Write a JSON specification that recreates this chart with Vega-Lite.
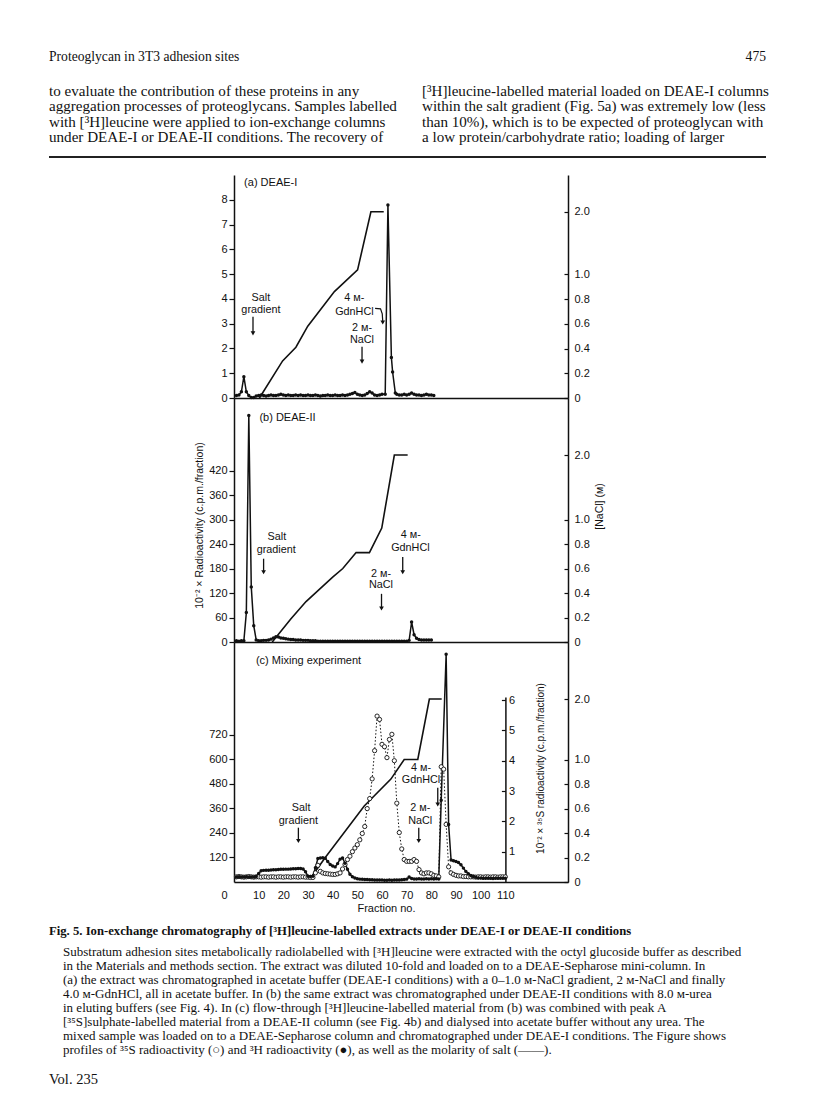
{
  "$schema": "https://vega.github.io/schema/vega-lite/v6.json",
  "autosize": {"type": "pad"},
  "padding": {"left": 48, "right": 51, "top": 40, "bottom": 0},
  "background": "white",
  "bounds": "flush",
  "spacing": 0,
  "config": {
    "view": {"stroke": null},
    "font": "Liberation Sans",
    "axis": {"domainColor": "#111", "tickColor": "#111", "labelColor": "#111", "titleColor": "#111", "domainWidth": 1.5, "tickWidth": 1.2, "labelFontSize": 11, "grid": false, "labelFont": "Liberation Sans", "titleFont": "Liberation Sans", "titleFontWeight": "normal", "titleFontSize": 10.5},
    "axisX": {"labelOverlap": false, "labelFlush": false}
  },
  "datasets": {
    "pageText": [
      {"col": "left", "line": 0, "text": "Proteoglycan in 3T3 adhesion sites"},
      {"col": "page", "line": 0, "text": "475"},
      {"col": "left", "line": 1, "text": "to evaluate the contribution of these proteins in any"},
      {"col": "left", "line": 2, "text": "aggregation processes of proteoglycans. Samples labelled"},
      {"col": "left", "line": 3, "text": "with [³H]leucine were applied to ion-exchange columns"},
      {"col": "left", "line": 4, "text": "under DEAE-I or DEAE-II conditions. The recovery of"},
      {"col": "right", "line": 1, "text": "[³H]leucine-labelled material loaded on DEAE-I columns"},
      {"col": "right", "line": 2, "text": "within the salt gradient (Fig. 5a) was extremely low (less"},
      {"col": "right", "line": 3, "text": "than 10%), which is to be expected of proteoglycan with"},
      {"col": "right", "line": 4, "text": "a low protein/carbohydrate ratio; loading of larger"}
    ],
    "captionText": [
      {"col": "margin", "line": 0, "text": "Fig. 5. Ion-exchange chromatography of [³H]leucine-labelled extracts under DEAE-I or DEAE-II conditions"},
      {"col": "indent", "line": 1, "text": "Substratum adhesion sites metabolically radiolabelled with [³H]leucine were extracted with the octyl glucoside buffer as described"},
      {"col": "indent", "line": 2, "text": "in the Materials and methods section. The extract was diluted 10-fold and loaded on to a DEAE-Sepharose mini-column. In"},
      {"col": "indent", "line": 3, "text": "(a) the extract was chromatographed in acetate buffer (DEAE-I conditions) with a 0–1.0 ᴍ-NaCl gradient, 2 ᴍ-NaCl and finally"},
      {"col": "indent", "line": 4, "text": "4.0 ᴍ-GdnHCl, all in acetate buffer. In (b) the same extract was chromatographed under DEAE-II conditions with 8.0 ᴍ-urea"},
      {"col": "indent", "line": 5, "text": "in eluting buffers (see Fig. 4). In (c) flow-through [³H]leucine-labelled material from (b) was combined with peak A"},
      {"col": "indent", "line": 6, "text": "[³⁵S]sulphate-labelled material from a DEAE-II column (see Fig. 4b) and dialysed into acetate buffer without any urea. The"},
      {"col": "indent", "line": 7, "text": "mixed sample was loaded on to a DEAE-Sepharose column and chromatographed under DEAE-I conditions. The Figure shows"},
      {"col": "indent", "line": 8, "text": "profiles of ³⁵S radioactivity (○) and ³H radioactivity (●), as well as the molarity of salt (——)."},
      {"col": "margin", "line": 9, "text": "Vol. 235"}
    ],
    "nA": [
      {"fraction": 10.3, "M": 0}, {"fraction": 19.7, "M": 0.3}, {"fraction": 25.1, "M": 0.41}, {"fraction": 29.9, "M": 0.58},
      {"fraction": 40.7, "M": 0.86}, {"fraction": 50.1, "M": 1.07}, {"fraction": 55.5, "M": 2.0}, {"fraction": 60.7, "M": 2.0}
    ],
    "nB": [
      {"fraction": 15.5, "M": 0}, {"fraction": 23.1, "M": 0.19}, {"fraction": 29.2, "M": 0.33}, {"fraction": 40, "M": 0.53},
      {"fraction": 44.1, "M": 0.6}, {"fraction": 49.5, "M": 0.73}, {"fraction": 54.9, "M": 0.73}, {"fraction": 59.9, "M": 0.93},
      {"fraction": 65, "M": 2.0}, {"fraction": 70.4, "M": 2.0}
    ],
    "nC": [
      {"fraction": 31, "M": 0.03}, {"fraction": 37, "M": 0.2}, {"fraction": 52.8, "M": 0.62}, {"fraction": 63.6, "M": 0.84},
      {"fraction": 69, "M": 1.0}, {"fraction": 74.5, "M": 1.0}, {"fraction": 79.2, "M": 2.0}, {"fraction": 84.2, "M": 2.0}
    ],
    "hA": [
      {"fraction": 1, "cpm": 0.1}, {"fraction": 2, "cpm": 0.12}, {"fraction": 3, "cpm": 0.25}, {"fraction": 4, "cpm": 0.86}, {"fraction": 5, "cpm": 0.25},
      {"fraction": 6, "cpm": 0.1}, {"fraction": 7, "cpm": 0.02}, {"fraction": 8, "cpm": 0.02}, {"fraction": 9, "cpm": 0.08}, {"fraction": 10, "cpm": 0.1},
      {"fraction": 11, "cpm": 0.12}, {"fraction": 12, "cpm": 0.1}, {"fraction": 13, "cpm": 0.08}, {"fraction": 14, "cpm": 0.1}, {"fraction": 15, "cpm": 0.12},
      {"fraction": 16, "cpm": 0.1}, {"fraction": 17, "cpm": 0.1}, {"fraction": 18, "cpm": 0.12}, {"fraction": 19, "cpm": 0.15}, {"fraction": 20, "cpm": 0.12},
      {"fraction": 21, "cpm": 0.1}, {"fraction": 22, "cpm": 0.12}, {"fraction": 23, "cpm": 0.1}, {"fraction": 24, "cpm": 0.1}, {"fraction": 25, "cpm": 0.12},
      {"fraction": 26, "cpm": 0.1}, {"fraction": 27, "cpm": 0.12}, {"fraction": 28, "cpm": 0.1}, {"fraction": 29, "cpm": 0.1}, {"fraction": 30, "cpm": 0.12},
      {"fraction": 31, "cpm": 0.1}, {"fraction": 32, "cpm": 0.1}, {"fraction": 33, "cpm": 0.12}, {"fraction": 34, "cpm": 0.1}, {"fraction": 35, "cpm": 0.08},
      {"fraction": 36, "cpm": 0.1}, {"fraction": 37, "cpm": 0.1}, {"fraction": 38, "cpm": 0.12}, {"fraction": 39, "cpm": 0.1}, {"fraction": 40, "cpm": 0.1},
      {"fraction": 41, "cpm": 0.12}, {"fraction": 42, "cpm": 0.1}, {"fraction": 43, "cpm": 0.1}, {"fraction": 44, "cpm": 0.12}, {"fraction": 45, "cpm": 0.1},
      {"fraction": 46, "cpm": 0.12}, {"fraction": 47, "cpm": 0.15}, {"fraction": 48, "cpm": 0.18}, {"fraction": 49, "cpm": 0.22}, {"fraction": 50, "cpm": 0.15},
      {"fraction": 51, "cpm": 0.12}, {"fraction": 52, "cpm": 0.1}, {"fraction": 53, "cpm": 0.12}, {"fraction": 54, "cpm": 0.18}, {"fraction": 55, "cpm": 0.25},
      {"fraction": 56, "cpm": 0.2}, {"fraction": 57, "cpm": 0.12}, {"fraction": 58, "cpm": 0.1}, {"fraction": 59, "cpm": 0.12}, {"fraction": 60, "cpm": 0.15},
      {"fraction": 61.3, "cpm": 0.15}, {"fraction": 62.4, "cpm": 7.8}, {"fraction": 63.8, "cpm": 1.64}, {"fraction": 64.3, "cpm": 1.05}, {"fraction": 65.4, "cpm": 0.2},
      {"fraction": 66, "cpm": 0.15}, {"fraction": 67, "cpm": 0.12}, {"fraction": 68, "cpm": 0.12}, {"fraction": 69, "cpm": 0.15}, {"fraction": 70, "cpm": 0.12},
      {"fraction": 71, "cpm": 0.15}, {"fraction": 72, "cpm": 0.2}, {"fraction": 73, "cpm": 0.15}, {"fraction": 74, "cpm": 0.12}, {"fraction": 75, "cpm": 0.12},
      {"fraction": 76, "cpm": 0.1}, {"fraction": 77, "cpm": 0.12}, {"fraction": 78, "cpm": 0.15}, {"fraction": 79, "cpm": 0.12}, {"fraction": 80, "cpm": 0.12},
      {"fraction": 81, "cpm": 0.1}
    ],
    "hB": [
      {"fraction": 1, "cpm": 3}, {"fraction": 2, "cpm": 2}, {"fraction": 3, "cpm": 3}, {"fraction": 4, "cpm": 3}, {"fraction": 5, "cpm": 72},
      {"fraction": 6, "cpm": 555}, {"fraction": 7, "cpm": 135}, {"fraction": 8, "cpm": 40}, {"fraction": 9, "cpm": 5}, {"fraction": 10, "cpm": 3},
      {"fraction": 11, "cpm": 3}, {"fraction": 12, "cpm": 4}, {"fraction": 13, "cpm": 4}, {"fraction": 14, "cpm": 5}, {"fraction": 15, "cpm": 7},
      {"fraction": 16, "cpm": 10}, {"fraction": 17, "cpm": 13}, {"fraction": 18, "cpm": 12}, {"fraction": 19, "cpm": 10}, {"fraction": 20, "cpm": 9},
      {"fraction": 21, "cpm": 8}, {"fraction": 22, "cpm": 7}, {"fraction": 23, "cpm": 6}, {"fraction": 24, "cpm": 6}, {"fraction": 25, "cpm": 5},
      {"fraction": 26, "cpm": 5}, {"fraction": 27, "cpm": 5}, {"fraction": 28, "cpm": 4}, {"fraction": 29, "cpm": 4}, {"fraction": 30, "cpm": 4},
      {"fraction": 31, "cpm": 3}, {"fraction": 32, "cpm": 3}, {"fraction": 33, "cpm": 3}, {"fraction": 34, "cpm": 2}, {"fraction": 35, "cpm": 2},
      {"fraction": 36, "cpm": 2}, {"fraction": 37, "cpm": 2}, {"fraction": 38, "cpm": 2}, {"fraction": 39, "cpm": 2}, {"fraction": 40, "cpm": 2},
      {"fraction": 41, "cpm": 2}, {"fraction": 42, "cpm": 2}, {"fraction": 43, "cpm": 2}, {"fraction": 44, "cpm": 2}, {"fraction": 45, "cpm": 2},
      {"fraction": 46, "cpm": 2}, {"fraction": 47, "cpm": 2}, {"fraction": 48, "cpm": 2}, {"fraction": 49, "cpm": 2}, {"fraction": 50, "cpm": 2},
      {"fraction": 51, "cpm": 2}, {"fraction": 52, "cpm": 2}, {"fraction": 53, "cpm": 2}, {"fraction": 54, "cpm": 2}, {"fraction": 55, "cpm": 2},
      {"fraction": 56, "cpm": 2}, {"fraction": 57, "cpm": 2}, {"fraction": 58, "cpm": 2}, {"fraction": 59, "cpm": 2}, {"fraction": 60, "cpm": 2},
      {"fraction": 61, "cpm": 2}, {"fraction": 62, "cpm": 2}, {"fraction": 63, "cpm": 2}, {"fraction": 64, "cpm": 2}, {"fraction": 65, "cpm": 2},
      {"fraction": 66, "cpm": 2}, {"fraction": 67, "cpm": 2}, {"fraction": 68, "cpm": 2}, {"fraction": 69, "cpm": 2}, {"fraction": 70, "cpm": 2},
      {"fraction": 71, "cpm": 4}, {"fraction": 72, "cpm": 49}, {"fraction": 73, "cpm": 18}, {"fraction": 74, "cpm": 9}, {"fraction": 75, "cpm": 6},
      {"fraction": 76, "cpm": 5}, {"fraction": 77, "cpm": 5}, {"fraction": 78, "cpm": 5}, {"fraction": 79, "cpm": 5}, {"fraction": 80, "cpm": 5}
    ],
    "hC": [
      {"fraction": 1, "cpm": 25}, {"fraction": 2, "cpm": 26}, {"fraction": 3, "cpm": 25}, {"fraction": 4, "cpm": 24}, {"fraction": 5, "cpm": 26},
      {"fraction": 6, "cpm": 25}, {"fraction": 7, "cpm": 24}, {"fraction": 8, "cpm": 25}, {"fraction": 9, "cpm": 27}, {"fraction": 10, "cpm": 42},
      {"fraction": 11, "cpm": 55}, {"fraction": 12, "cpm": 57}, {"fraction": 13, "cpm": 58}, {"fraction": 14, "cpm": 58}, {"fraction": 15, "cpm": 59},
      {"fraction": 16, "cpm": 60}, {"fraction": 17, "cpm": 60}, {"fraction": 18, "cpm": 61}, {"fraction": 19, "cpm": 62}, {"fraction": 20, "cpm": 62},
      {"fraction": 21, "cpm": 63}, {"fraction": 22, "cpm": 63}, {"fraction": 23, "cpm": 64}, {"fraction": 24, "cpm": 65}, {"fraction": 25, "cpm": 65},
      {"fraction": 26, "cpm": 66}, {"fraction": 27, "cpm": 66}, {"fraction": 28, "cpm": 64}, {"fraction": 29, "cpm": 50}, {"fraction": 30, "cpm": 28},
      {"fraction": 31, "cpm": 27}, {"fraction": 32, "cpm": 28}, {"fraction": 33, "cpm": 70}, {"fraction": 34, "cpm": 115}, {"fraction": 35, "cpm": 118},
      {"fraction": 36, "cpm": 119}, {"fraction": 37, "cpm": 116}, {"fraction": 38, "cpm": 100}, {"fraction": 39, "cpm": 86}, {"fraction": 40, "cpm": 78},
      {"fraction": 41, "cpm": 74}, {"fraction": 42, "cpm": 90}, {"fraction": 43, "cpm": 112}, {"fraction": 44, "cpm": 118}, {"fraction": 45, "cpm": 92},
      {"fraction": 46, "cpm": 62}, {"fraction": 47, "cpm": 38}, {"fraction": 48, "cpm": 26}, {"fraction": 49, "cpm": 20}, {"fraction": 50, "cpm": 16},
      {"fraction": 51, "cpm": 14}, {"fraction": 52, "cpm": 13}, {"fraction": 53, "cpm": 12}, {"fraction": 54, "cpm": 12}, {"fraction": 55, "cpm": 11},
      {"fraction": 56, "cpm": 11}, {"fraction": 57, "cpm": 10}, {"fraction": 58, "cpm": 10}, {"fraction": 59, "cpm": 10}, {"fraction": 60, "cpm": 10},
      {"fraction": 61, "cpm": 9}, {"fraction": 62, "cpm": 9}, {"fraction": 63, "cpm": 10}, {"fraction": 64, "cpm": 9}, {"fraction": 65, "cpm": 10},
      {"fraction": 66, "cpm": 10}, {"fraction": 67, "cpm": 10}, {"fraction": 68, "cpm": 11}, {"fraction": 69, "cpm": 12}, {"fraction": 70, "cpm": 14},
      {"fraction": 71, "cpm": 24}, {"fraction": 72, "cpm": 17}, {"fraction": 73, "cpm": 15}, {"fraction": 74, "cpm": 15}, {"fraction": 75, "cpm": 16},
      {"fraction": 76, "cpm": 15}, {"fraction": 77, "cpm": 15}, {"fraction": 78, "cpm": 16}, {"fraction": 79, "cpm": 15}, {"fraction": 80, "cpm": 16},
      {"fraction": 81, "cpm": 15}, {"fraction": 82, "cpm": 16}, {"fraction": 83, "cpm": 15}, {"fraction": 84, "cpm": 400}, {"fraction": 86, "cpm": 1115},
      {"fraction": 87, "cpm": 282}, {"fraction": 88, "cpm": 108}, {"fraction": 89, "cpm": 104}, {"fraction": 90, "cpm": 100}, {"fraction": 91, "cpm": 96},
      {"fraction": 92, "cpm": 84}, {"fraction": 93, "cpm": 68}, {"fraction": 94, "cpm": 52}, {"fraction": 95, "cpm": 40}, {"fraction": 96, "cpm": 32},
      {"fraction": 97, "cpm": 27}, {"fraction": 98, "cpm": 23}, {"fraction": 99, "cpm": 20}, {"fraction": 100, "cpm": 19}, {"fraction": 101, "cpm": 18},
      {"fraction": 102, "cpm": 18}, {"fraction": 103, "cpm": 18}, {"fraction": 104, "cpm": 18}, {"fraction": 105, "cpm": 17}, {"fraction": 106, "cpm": 18},
      {"fraction": 107, "cpm": 18}, {"fraction": 108, "cpm": 18}, {"fraction": 109, "cpm": 18}, {"fraction": 110, "cpm": 18}
    ],
    "sC": [
      {"fraction": 1, "s35": 0.17}, {"fraction": 2, "s35": 0.18}, {"fraction": 3, "s35": 0.17}, {"fraction": 4, "s35": 0.16}, {"fraction": 5, "s35": 0.17},
      {"fraction": 6, "s35": 0.18}, {"fraction": 7, "s35": 0.17}, {"fraction": 8, "s35": 0.16}, {"fraction": 9, "s35": 0.17}, {"fraction": 10, "s35": 0.17},
      {"fraction": 11, "s35": 0.16}, {"fraction": 12, "s35": 0.17}, {"fraction": 13, "s35": 0.17}, {"fraction": 14, "s35": 0.16}, {"fraction": 15, "s35": 0.17},
      {"fraction": 16, "s35": 0.17}, {"fraction": 17, "s35": 0.16}, {"fraction": 18, "s35": 0.17}, {"fraction": 19, "s35": 0.17}, {"fraction": 20, "s35": 0.16},
      {"fraction": 21, "s35": 0.17}, {"fraction": 22, "s35": 0.17}, {"fraction": 23, "s35": 0.16}, {"fraction": 24, "s35": 0.17}, {"fraction": 25, "s35": 0.17},
      {"fraction": 26, "s35": 0.16}, {"fraction": 27, "s35": 0.17}, {"fraction": 28, "s35": 0.17}, {"fraction": 29, "s35": 0.16}, {"fraction": 30, "s35": 0.16},
      {"fraction": 31, "s35": 0.15}, {"fraction": 32, "s35": 0.15}, {"fraction": 33, "s35": 0.3}, {"fraction": 34, "s35": 0.55}, {"fraction": 35, "s35": 0.35},
      {"fraction": 36, "s35": 0.3}, {"fraction": 37, "s35": 0.28}, {"fraction": 38, "s35": 0.27}, {"fraction": 39, "s35": 0.26}, {"fraction": 40, "s35": 0.25},
      {"fraction": 41, "s35": 0.25}, {"fraction": 42, "s35": 0.27}, {"fraction": 43, "s35": 0.3}, {"fraction": 44, "s35": 0.43}, {"fraction": 45, "s35": 0.58},
      {"fraction": 46, "s35": 0.74}, {"fraction": 47, "s35": 0.85}, {"fraction": 48, "s35": 1.0}, {"fraction": 49, "s35": 1.12}, {"fraction": 50, "s35": 1.23},
      {"fraction": 51, "s35": 1.39}, {"fraction": 52, "s35": 1.6}, {"fraction": 53, "s35": 1.83}, {"fraction": 54, "s35": 2.42}, {"fraction": 55, "s35": 2.75},
      {"fraction": 56, "s35": 3.4}, {"fraction": 57, "s35": 4.33}, {"fraction": 58, "s35": 5.47}, {"fraction": 59, "s35": 5.36}, {"fraction": 60, "s35": 4.54},
      {"fraction": 61, "s35": 4.46}, {"fraction": 62, "s35": 4.1}, {"fraction": 63, "s35": 4.7}, {"fraction": 64, "s35": 4.87}, {"fraction": 65, "s35": 4.0},
      {"fraction": 66, "s35": 2.6}, {"fraction": 67, "s35": 1.63}, {"fraction": 68, "s35": 1.09}, {"fraction": 69, "s35": 0.74}, {"fraction": 70, "s35": 0.68},
      {"fraction": 71, "s35": 0.68}, {"fraction": 72, "s35": 0.68}, {"fraction": 73, "s35": 0.74}, {"fraction": 74, "s35": 0.68}, {"fraction": 75, "s35": 0.41},
      {"fraction": 76, "s35": 0.3}, {"fraction": 77, "s35": 0.27}, {"fraction": 78, "s35": 0.3}, {"fraction": 79, "s35": 0.3}, {"fraction": 80, "s35": 0.27},
      {"fraction": 81, "s35": 0.22}, {"fraction": 82, "s35": 0.2}, {"fraction": 83, "s35": 0.17}, {"fraction": 84, "s35": 3.8}, {"fraction": 85, "s35": 3.72},
      {"fraction": 86, "s35": 1.9}, {"fraction": 87, "s35": 0.5}, {"fraction": 88, "s35": 0.3}, {"fraction": 89, "s35": 0.25}, {"fraction": 90, "s35": 0.22},
      {"fraction": 91, "s35": 0.2}, {"fraction": 92, "s35": 0.2}, {"fraction": 93, "s35": 0.18}, {"fraction": 94, "s35": 0.18}, {"fraction": 95, "s35": 0.17},
      {"fraction": 96, "s35": 0.17}, {"fraction": 97, "s35": 0.17}, {"fraction": 98, "s35": 0.16}, {"fraction": 99, "s35": 0.17}, {"fraction": 100, "s35": 0.17},
      {"fraction": 101, "s35": 0.16}, {"fraction": 102, "s35": 0.17}, {"fraction": 103, "s35": 0.17}, {"fraction": 104, "s35": 0.16}, {"fraction": 105, "s35": 0.17},
      {"fraction": 106, "s35": 0.17}, {"fraction": 107, "s35": 0.16}, {"fraction": 108, "s35": 0.17}, {"fraction": 109, "s35": 0.17}, {"fraction": 110, "s35": 0.17}
    ],
    "annA": [
      {"text": "Salt", "fraction": 10.9, "value": 4.05}, {"text": "gradient", "fraction": 10.9, "value": 3.56},
      {"text": "4 ᴍ-", "fraction": 48.8, "value": 4.03}, {"text": "GdnHCl", "fraction": 48.8, "value": 3.49},
      {"text": "2 ᴍ-", "fraction": 51.9, "value": 2.81}, {"text": "NaCl", "fraction": 51.9, "value": 2.34}
    ],
    "arrA": [
      {"fraction": 7.7, "top": 3.28, "bottom": 2.61}, {"fraction": 51.9, "top": 2.07, "bottom": 1.47}, {"fraction": 60.3, "top": 3.1, "bottom": 3.05}
    ],
    "hookA": [
      {"fraction": 57.2, "value": 3.62}, {"fraction": 59.4, "value": 3.6}, {"fraction": 60.1, "value": 3.4}, {"fraction": 60.3, "value": 3.1}
    ],
    "annB": [
      {"text": "Salt", "fraction": 17.4, "value": 257}, {"text": "gradient", "fraction": 17.1, "value": 224.5},
      {"text": "4 ᴍ-", "fraction": 71.7, "value": 263}, {"text": "GdnHCl", "fraction": 71.5, "value": 231},
      {"text": "2 ᴍ-", "fraction": 59.6, "value": 167}, {"text": "NaCl", "fraction": 59.6, "value": 139}
    ],
    "arrB": [
      {"fraction": 12.0, "top": 204, "bottom": 171}, {"fraction": 68.4, "top": 208, "bottom": 171}, {"fraction": 59.8, "top": 118, "bottom": 82}
    ],
    "annC": [
      {"text": "Salt", "fraction": 27.2, "value": 364}, {"text": "gradient", "fraction": 26.1, "value": 299},
      {"text": "4 ᴍ-", "fraction": 75.8, "value": 560}, {"text": "GdnHCl", "fraction": 75.8, "value": 500},
      {"text": "2 ᴍ-", "fraction": 75.5, "value": 364}, {"text": "NaCl", "fraction": 75.5, "value": 299}
    ],
    "arrC": [
      {"fraction": 26.1, "top": 266, "bottom": 201}, {"fraction": 82.6, "top": 462, "bottom": 380}, {"fraction": 74.9, "top": 266, "bottom": 201}
    ]
  },
  "vconcat": [
    {
      "width": 334, "height": 135,
      "data": {"name": "pageText"},
      "encoding": {
        "x": {"field": "col", "type": "nominal", "scale": {"type": "point", "domain": ["left", "right", "page"], "range": [-185, 532], "padding": 0}, "axis": null},
        "y": {"field": "line", "type": "quantitative", "scale": {"domain": [0, 1, 4, 5], "range": [17, 51, 97, 117]}, "axis": null},
        "text": {"field": "text"}
      },
      "layer": [
        {"transform": [{"filter": "datum.col == 'left' && datum.line == 0"}], "mark": {"type": "text", "align": "left", "baseline": "middle", "font": "Liberation Serif", "fontSize": 13.6, "color": "#111"}},
        {"transform": [{"filter": "datum.col == 'left' && datum.line > 0"}], "mark": {"type": "text", "align": "left", "baseline": "middle", "font": "Liberation Serif", "fontSize": 15.1, "color": "#111"}},
        {"transform": [{"filter": "datum.col == 'right'"}], "mark": {"type": "text", "align": "left", "baseline": "middle", "dx": 14.5, "font": "Liberation Serif", "fontSize": 15.1, "color": "#111"}},
        {"transform": [{"filter": "datum.col == 'page'"}], "mark": {"type": "text", "align": "right", "baseline": "middle", "font": "Liberation Serif", "fontSize": 13.6, "color": "#111"}},
        {"mark": {"type": "rule", "color": "#222", "strokeWidth": 1.6},
         "encoding": {"x": {"datum": "left", "type": "nominal"}, "x2": {"datum": "page"}, "y": {"datum": 5, "type": "quantitative"}, "text": null}}
      ]
    },
    {
      "width": 334, "height": 223,
      "layer": [
        {"data": {"name": "nA"}, "mark": {"type": "line", "color": "#111", "strokeWidth": 1.6},
         "encoding": {
           "x": {"field": "fraction", "type": "quantitative", "scale": {"domain": [0, 135.4], "nice": false, "zero": false}, "axis": {"orient": "bottom", "domain": true, "ticks": false, "labels": false, "title": null}},
           "y": {"field": "M", "type": "quantitative", "scale": {"domain": [0, 1, 2, 2.587], "range": [223, 99.25, 36.7, 0]}, "axis": {"orient": "right", "values": [0, 0.2, 0.4, 0.6, 0.8, 1, 2], "labelExpr": "datum.value == 0 ? '0' : format(datum.value, '.1f')", "title": null, "tickSize": -4, "labelPadding": 10}}
         }},
        {"data": {"name": "hA"}, "mark": {"type": "line", "color": "#111", "strokeWidth": 1.5},
         "encoding": {
           "x": {"field": "fraction", "type": "quantitative"},
           "y": {"field": "cpm", "type": "quantitative", "scale": {"domain": [0, 9.01], "nice": false, "zero": false}, "axis": {"orient": "left", "values": [0, 1, 2, 3, 4, 5, 6, 7, 8], "title": null, "tickSize": 5, "labelPadding": 2}}
         }},
        {"data": {"name": "hA"}, "mark": {"type": "point", "filled": true, "size": 12, "color": "#111", "opacity": 1},
         "encoding": {
           "x": {"field": "fraction", "type": "quantitative"},
           "y": {"field": "cpm", "type": "quantitative", "scale": {"domain": [0, 9.01], "nice": false, "zero": false}, "axis": null}
         }},
        {"data": {"name": "annA"}, "mark": {"type": "text", "align": "center", "baseline": "middle", "fontSize": 10.8, "color": "#111"},
         "encoding": {
           "x": {"field": "fraction", "type": "quantitative"},
           "y": {"field": "value", "type": "quantitative", "scale": {"domain": [0, 9.01], "nice": false, "zero": false}, "axis": null},
           "text": {"field": "text"}
         }},
        {"data": {"name": "arrA"}, "mark": {"type": "rule", "color": "#111", "strokeWidth": 1.3},
         "encoding": {
           "x": {"field": "fraction", "type": "quantitative"},
           "y": {"field": "top", "type": "quantitative", "scale": {"domain": [0, 9.01], "nice": false, "zero": false}, "axis": null},
           "y2": {"field": "bottom"}
         }},
        {"data": {"name": "arrA"}, "mark": {"type": "point", "shape": "triangle-down", "filled": true, "size": 22, "color": "#111", "opacity": 1},
         "encoding": {
           "x": {"field": "fraction", "type": "quantitative"},
           "y": {"field": "bottom", "type": "quantitative", "scale": {"domain": [0, 9.01], "nice": false, "zero": false}, "axis": null}
         }},
        {"data": {"name": "hookA"}, "mark": {"type": "line", "color": "#111", "strokeWidth": 1.2},
         "encoding": {
           "x": {"field": "fraction", "type": "quantitative"},
           "y": {"field": "value", "type": "quantitative", "scale": {"domain": [0, 9.01], "nice": false, "zero": false}, "axis": null}
         }},
        {"data": {"values": [{}]}, "mark": {"type": "text", "align": "left", "baseline": "middle", "fontSize": 11, "color": "#111"},
         "encoding": {
           "x": {"datum": 4.1, "type": "quantitative"},
           "y": {"datum": 8.69, "type": "quantitative", "scale": {"domain": [0, 9.01], "nice": false, "zero": false}, "axis": null},
           "text": {"value": "(a) DEAE-I"}
         }}
      ],
      "resolve": {"scale": {"y": "independent"}, "axis": {"y": "independent"}}
    },
    {
      "width": 334, "height": 244,
      "layer": [
        {"data": {"name": "nB"}, "mark": {"type": "line", "color": "#111", "strokeWidth": 1.6},
         "encoding": {
           "x": {"field": "fraction", "type": "quantitative", "scale": {"domain": [0, 135.4], "nice": false, "zero": false}, "axis": {"orient": "bottom", "domain": true, "ticks": false, "labels": false, "title": null}},
           "y": {"field": "M", "type": "quantitative", "scale": {"domain": [0, 1, 2, 2.884], "range": [244, 121.5, 57, 0]}, "axis": {"orient": "right", "values": [0, 0.2, 0.4, 0.6, 0.8, 1, 2], "labelExpr": "datum.value == 0 ? '0' : format(datum.value, '.1f')", "title": "[NaCl] (ᴍ)", "titleAngle": 270, "titleX": 31, "titleY": 108, "titleAlign": "center", "titleBaseline": "middle", "tickSize": -4, "labelPadding": 10}}
         }},
        {"data": {"name": "hB"}, "mark": {"type": "line", "color": "#111", "strokeWidth": 1.5},
         "encoding": {
           "x": {"field": "fraction", "type": "quantitative"},
           "y": {"field": "cpm", "type": "quantitative", "scale": {"domain": [0, 597.6], "nice": false, "zero": false}, "axis": {"orient": "left", "values": [0, 60, 120, 180, 240, 300, 360, 420], "title": "10⁻² × Radioactivity (c.p.m./fraction)", "titleAngle": 270, "titleX": -35, "titleY": 127, "titleAlign": "center", "titleBaseline": "middle", "tickSize": 5, "labelPadding": 2}}
         }},
        {"data": {"name": "hB"}, "mark": {"type": "point", "filled": true, "size": 12, "color": "#111", "opacity": 1},
         "encoding": {
           "x": {"field": "fraction", "type": "quantitative"},
           "y": {"field": "cpm", "type": "quantitative", "scale": {"domain": [0, 597.6], "nice": false, "zero": false}, "axis": null}
         }},
        {"data": {"name": "annB"}, "mark": {"type": "text", "align": "center", "baseline": "middle", "fontSize": 10.8, "color": "#111"},
         "encoding": {
           "x": {"field": "fraction", "type": "quantitative"},
           "y": {"field": "value", "type": "quantitative", "scale": {"domain": [0, 597.6], "nice": false, "zero": false}, "axis": null},
           "text": {"field": "text"}
         }},
        {"data": {"name": "arrB"}, "mark": {"type": "rule", "color": "#111", "strokeWidth": 1.3},
         "encoding": {
           "x": {"field": "fraction", "type": "quantitative"},
           "y": {"field": "top", "type": "quantitative", "scale": {"domain": [0, 597.6], "nice": false, "zero": false}, "axis": null},
           "y2": {"field": "bottom"}
         }},
        {"data": {"name": "arrB"}, "mark": {"type": "point", "shape": "triangle-down", "filled": true, "size": 22, "color": "#111", "opacity": 1},
         "encoding": {
           "x": {"field": "fraction", "type": "quantitative"},
           "y": {"field": "bottom", "type": "quantitative", "scale": {"domain": [0, 597.6], "nice": false, "zero": false}, "axis": null}
         }},
        {"data": {"values": [{}]}, "mark": {"type": "text", "align": "left", "baseline": "middle", "fontSize": 11, "color": "#111"},
         "encoding": {
           "x": {"datum": 10.3, "type": "quantitative"},
           "y": {"datum": 549, "type": "quantitative", "scale": {"domain": [0, 597.6], "nice": false, "zero": false}, "axis": null},
           "text": {"value": "(b) DEAE-II"}
         }}
      ],
      "resolve": {"scale": {"y": "independent"}, "axis": {"y": "independent"}}
    },
    {
      "width": 334, "height": 240,
      "layer": [
        {"data": {"name": "nC"}, "mark": {"type": "line", "color": "#111", "strokeWidth": 1.6},
         "encoding": {
           "x": {"field": "fraction", "type": "quantitative", "scale": {"domain": [0, 135.4], "nice": false, "zero": false}, "axis": {"orient": "bottom", "domain": true, "ticks": false, "values": [0, 10, 20, 30, 40, 50, 60, 70, 80, 90, 100, 110], "tickCount": 30, "labelOverlap": false, "labelFlush": false, "labelPadding": 7, "labelOffset": {"condition": {"test": "datum.value == 0", "value": -10}, "value": 0}, "title": "Fraction no.", "titleFontSize": 11, "titleX": 152, "titleY": 26, "titleBaseline": "middle"}},
           "y": {"field": "M", "type": "quantitative", "scale": {"domain": [0, 1, 2, 2.942], "range": [240, 117.5, 57, 0]}, "axis": {"orient": "right", "values": [0, 0.2, 0.4, 0.6, 0.8, 1, 2], "labelExpr": "datum.value == 0 ? '0' : format(datum.value, '.1f')", "title": null, "tickSize": -4, "labelPadding": 10}}
         }},
        {"data": {"name": "hC"}, "mark": {"type": "line", "color": "#111", "strokeWidth": 1.5},
         "encoding": {
           "x": {"field": "fraction", "type": "quantitative"},
           "y": {"field": "cpm", "type": "quantitative", "scale": {"domain": [0, 1175.5], "nice": false, "zero": false}, "axis": {"orient": "left", "values": [120, 240, 360, 480, 600, 720], "title": null, "tickSize": 5, "labelPadding": 2}}
         }},
        {"data": {"name": "sC"}, "mark": {"type": "line", "color": "#111", "strokeWidth": 1, "strokeDash": [1.5, 2]},
         "encoding": {
           "x": {"field": "fraction", "type": "quantitative"},
           "y": {"field": "s35", "type": "quantitative", "scale": {"domain": [0, 6.1], "range": [240, 55], "nice": false, "zero": false}, "axis": {"orient": "right", "offset": -62.6, "values": [1, 2, 3, 4, 5, 6], "tickSize": -4, "labelPadding": 7, "title": "10⁻² × ³⁵S radioactivity (c.p.m./fraction)", "titleFontSize": 10, "titleAngle": 270, "titleX": 35, "titleY": 126, "titleAlign": "center", "titleBaseline": "middle"}}
         }},
        {"data": {"name": "sC"}, "mark": {"type": "point", "shape": "circle", "filled": false, "fill": "white", "fillOpacity": 1, "stroke": "#111", "strokeWidth": 0.9, "size": 18, "opacity": 1},
         "encoding": {
           "x": {"field": "fraction", "type": "quantitative"},
           "y": {"field": "s35", "type": "quantitative", "scale": {"domain": [0, 6.1], "range": [240, 55], "nice": false, "zero": false}, "axis": null}
         }},
        {"data": {"name": "hC"}, "mark": {"type": "point", "filled": true, "size": 12, "color": "#111", "opacity": 1},
         "encoding": {
           "x": {"field": "fraction", "type": "quantitative"},
           "y": {"field": "cpm", "type": "quantitative", "scale": {"domain": [0, 1175.5], "nice": false, "zero": false}, "axis": null}
         }},
        {"data": {"name": "annC"}, "mark": {"type": "text", "align": "center", "baseline": "middle", "fontSize": 10.8, "color": "#111"},
         "encoding": {
           "x": {"field": "fraction", "type": "quantitative"},
           "y": {"field": "value", "type": "quantitative", "scale": {"domain": [0, 1175.5], "nice": false, "zero": false}, "axis": null},
           "text": {"field": "text"}
         }},
        {"data": {"name": "arrC"}, "mark": {"type": "rule", "color": "#111", "strokeWidth": 1.3},
         "encoding": {
           "x": {"field": "fraction", "type": "quantitative"},
           "y": {"field": "top", "type": "quantitative", "scale": {"domain": [0, 1175.5], "nice": false, "zero": false}, "axis": null},
           "y2": {"field": "bottom"}
         }},
        {"data": {"name": "arrC"}, "mark": {"type": "point", "shape": "triangle-down", "filled": true, "size": 22, "color": "#111", "opacity": 1},
         "encoding": {
           "x": {"field": "fraction", "type": "quantitative"},
           "y": {"field": "bottom", "type": "quantitative", "scale": {"domain": [0, 1175.5], "nice": false, "zero": false}, "axis": null}
         }},
        {"data": {"values": [{}]}, "mark": {"type": "text", "align": "left", "baseline": "middle", "fontSize": 11, "color": "#111"},
         "encoding": {
           "x": {"datum": 8.9, "type": "quantitative"},
           "y": {"datum": 1080, "type": "quantitative", "scale": {"domain": [0, 1175.5], "nice": false, "zero": false}, "axis": null},
           "text": {"value": "(c) Mixing experiment"}
         }}
      ],
      "resolve": {"scale": {"y": "independent"}, "axis": {"y": "independent"}}
    },
    {
      "width": 334, "height": 225,
      "data": {"name": "captionText"},
      "encoding": {
        "x": {"field": "col", "type": "nominal", "scale": {"type": "point", "domain": ["margin", "indent"], "range": [-185, -171], "padding": 0}, "axis": null},
        "y": {"field": "line", "type": "quantitative", "scale": {"domain": [0, 1, 8, 9], "range": [49, 70, 168, 198]}, "axis": null},
        "text": {"field": "text"}
      },
      "layer": [
        {"transform": [{"filter": "datum.line == 0"}], "mark": {"type": "text", "align": "left", "baseline": "middle", "font": "Liberation Serif", "fontWeight": "bold", "fontSize": 12.7, "color": "#111"}},
        {"transform": [{"filter": "datum.line >= 1 && datum.line <= 8"}], "mark": {"type": "text", "align": "left", "baseline": "middle", "font": "Liberation Serif", "fontSize": 13, "color": "#111"}},
        {"transform": [{"filter": "datum.line == 9"}], "mark": {"type": "text", "align": "left", "baseline": "middle", "font": "Liberation Serif", "fontSize": 14.5, "color": "#111"}}
      ]
    }
  ]
}
